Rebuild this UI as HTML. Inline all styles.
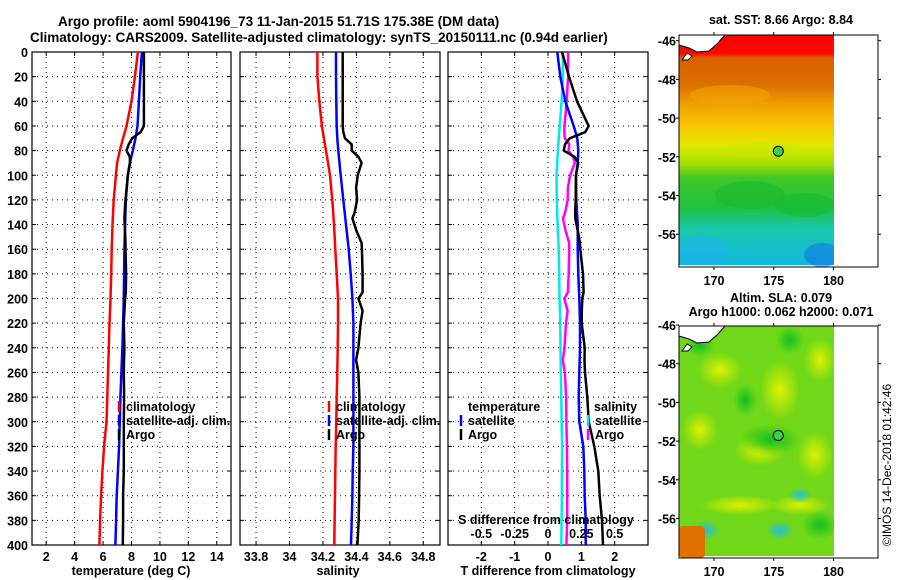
<!DOCTYPE html>
<html><head><meta charset="utf-8">
<style>
html,body{margin:0;padding:0;background:#fff;}
svg{display:block;font-family:"Liberation Sans",sans-serif;font-weight:bold;}
text{font-size:12.5px;fill:#000;}
</style></head>
<body>
<svg id="c" width="900" height="580" viewBox="0 0 900 580">
<defs>
<linearGradient id="sstg" x1="0" y1="0" x2="0" y2="1">
<stop offset="0" stop-color="#ff0000"/><stop offset="0.08" stop-color="#ff0800"/>
<stop offset="0.1" stop-color="#d86000"/><stop offset="0.22" stop-color="#dc7000"/>
<stop offset="0.3" stop-color="#f0a000"/><stop offset="0.4" stop-color="#f8c800"/>
<stop offset="0.48" stop-color="#e0e800"/><stop offset="0.56" stop-color="#a0e000"/>
<stop offset="0.62" stop-color="#40c828"/><stop offset="0.75" stop-color="#20c040"/>
<stop offset="0.84" stop-color="#18c8a8"/><stop offset="1" stop-color="#10b8e0"/>
</linearGradient>
<radialGradient id="blobY"><stop offset="0" stop-color="#e0f000"/><stop offset="1" stop-color="#e0f000" stop-opacity="0"/></radialGradient>
<radialGradient id="blobG"><stop offset="0" stop-color="#10c020"/><stop offset="1" stop-color="#10c020" stop-opacity="0"/></radialGradient>
<radialGradient id="blobC"><stop offset="0" stop-color="#20c0e0"/><stop offset="1" stop-color="#20c0e0" stop-opacity="0"/></radialGradient>
<clipPath id="clipTop"><rect x="679" y="35" width="155" height="232"/></clipPath>
<clipPath id="clipBot"><rect x="679" y="326" width="155" height="232"/></clipPath>
</defs>
<text x="58" y="26" style="font-size:13.5px">Argo profile: aoml 5904196_73 11-Jan-2015 51.71S 175.38E (DM data)</text>
<text x="30" y="42" style="font-size:13.5px">Climatology: CARS2009. Satellite-adjusted climatology: synTS_20150111.nc (0.94d earlier)</text>
<g id="plots"></g>
</svg>
<script>
// ---------- data ----------
const climDepth = [0,20,40,60,70,80,90,100,120,140,160,180,200,220,240,260,280,300,320,340,360,380,400];
const climTemp  = [8.45,8.24,8.0,7.65,7.4,7.18,6.99,6.9,6.75,6.66,6.61,6.57,6.52,6.45,6.4,6.35,6.3,6.24,6.07,5.95,5.86,5.79,5.74];
const satTemp   = [8.73,8.61,8.52,8.42,8.28,8.09,7.88,7.74,7.6,7.55,7.5,7.48,7.46,7.41,7.36,7.29,7.22,7.18,7.13,7.04,6.96,6.92,6.87];
const climSal   = [34.167,34.167,34.178,34.194,34.206,34.218,34.23,34.242,34.256,34.266,34.274,34.282,34.29,34.29,34.288,34.286,34.282,34.28,34.276,34.274,34.272,34.27,34.268];
const satSal    = [34.278,34.278,34.28,34.282,34.286,34.292,34.299,34.306,34.322,34.338,34.354,34.366,34.376,34.382,34.382,34.382,34.382,34.382,34.382,34.378,34.376,34.372,34.368];
const argoDepth = [0,20,40,60,65,70,75,80,85,90,100,110,120,130,135,145,155,160,180,195,200,210,220,240,250,260,280,300,320,340,360,380,400];
const argoTemp  = [8.87,8.87,8.87,8.87,8.64,8.05,7.8,7.65,7.88,7.9,7.74,7.66,7.58,7.52,7.5,7.54,7.58,7.58,7.62,7.6,7.55,7.5,7.46,7.5,7.47,7.46,7.48,7.46,7.46,7.46,7.41,7.41,7.39];
const argoSal   = [34.318,34.318,34.318,34.318,34.322,34.332,34.372,34.372,34.412,34.431,34.408,34.398,34.404,34.39,34.376,34.4,34.431,34.433,34.437,34.437,34.412,34.437,34.425,34.412,34.398,34.412,34.418,34.418,34.418,34.418,34.416,34.414,34.406];
const depthTicks = [0,20,40,60,80,100,120,140,160,180,200,220,240,260,280,300,320,340,360,380,400];
const tempTicks = [2,4,6,8,10,12,14];
const salTicks = [33.8,34,34.2,34.4,34.6,34.8];
const salTickLabels = ["33.8","34","34.2","34.4","34.6","34.8"];
const tdTicks = [-2,-1,0,1,2];
const sdTicks = [-0.5,-0.25,0,0.25,0.5];
const latTicks = [-46,-48,-50,-52,-54,-56];
const lonTicks = [170,175,180];
const argoLon = 175.38, argoLat = -51.71;

// ---------- helpers ----------
const NS='http://www.w3.org/2000/svg';
const root=document.getElementById('plots');
function mk(tag,attrs,parent){const e=document.createElementNS(NS,tag);for(const k in attrs)e.setAttribute(k,attrs[k]);(parent||root).appendChild(e);return e;}
function interp(xs,ys,x){for(let i=0;i<xs.length-1;i++){if(x>=xs[i]&&x<=xs[i+1]){const t=(x-xs[i])/(xs[i+1]-xs[i]);return ys[i]+t*(ys[i+1]-ys[i]);}}return ys[ys.length-1];}
const Y0=52,Y1=545;
const yD=d=>Y0+(d/400)*(Y1-Y0);

function panel(x0,x1,xmin,xmax,name){
  const g=mk('g',{});
  
  
  const sx=v=>x0+(v-xmin)/(xmax-xmin)*(x1-x0);
  return {g,sx,x0,x1};
}
function frame(p,xt,showY){
  depthTicks.forEach(d=>{
    const y=yD(d);
    if(d>0&&d<400){const l=mk('line',{x1:p.x0,x2:p.x1,y1:y,y2:y,stroke:'#000','stroke-width':1,'stroke-dasharray':'1,4'},p.g);}
    mk('line',{x1:p.x0,x2:p.x0+4,y1:y,y2:y,stroke:'#000'},p.g);
    mk('line',{x1:p.x1-4,x2:p.x1,y1:y,y2:y,stroke:'#000'},p.g);
    if(showY){const t=mk('text',{x:28,y:y+5,'text-anchor':'end'},p.g);t.textContent=d;}
  });
  xt.forEach(v=>{const x=p.sx(v);
    const l=mk('line',{x1:x,x2:x,y1:Y0,y2:Y1,stroke:'#000','stroke-dasharray':'1,4'},p.g);
    mk('line',{x1:x,x2:x,y1:Y1-4,y2:Y1,stroke:'#000'},p.g);mk('line',{x1:x,x2:x,y1:Y0,y2:Y0+4,stroke:'#000'},p.g);});
  const r=mk('rect',{x:p.x0,y:Y0,width:p.x1-p.x0,height:Y1-Y0,fill:'none',stroke:'#000','stroke-width':1.2},p.g);
  
}
function line(p,xs,ds,color,w,name){
  const pts=xs.map((v,i)=>p.sx(v).toFixed(1)+','+yD(ds[i]).toFixed(1)).join(' ');
  const pl=mk('polyline',{points:pts,fill:'none',stroke:color,'stroke-width':w,'stroke-linejoin':'round'},p.g);
  
  
}
function txt(parent,x,y,s,anchor,name,size){
  const t=mk('text',{x:x,y:y,'text-anchor':anchor||'start'},parent);
  if(size)t.style.fontSize=size+'px';
  t.textContent=s;
  
  
  return t;
}
function legendEntry(parent,x,y,color,label,name){
  const g=mk('g',{},parent);
  
  
  mk('line',{x1:x,x2:x,y1:y-10,y2:y+1,stroke:color,'stroke-width':2.5},g);
  txt(g,x+7,y,label,'start',name+'-label');
}

// ---------- panel 1: temperature ----------
const p1=panel(32,231,1,15,'temperature-panel');
frame(p1,tempTicks,true);
tempTicks.forEach(v=>txt(p1.g,p1.sx(v),561,v,'middle','temp-tick-label'));
txt(p1.g,131,575,'temperature (deg C)','middle','temperature-axis-title');
line(p1,climTemp,climDepth,'#ff0000',2.5,'temp-climatology-line');
line(p1,satTemp,climDepth,'#0000ff',2.5,'temp-satellite-line');
line(p1,argoTemp,argoDepth,'#000',2.5,'temp-argo-line');
legendEntry(p1.g,119,411,'#ff0000','climatology','legend-climatology');
legendEntry(p1.g,119,425,'#0000ff','satellite-adj. clim.','legend-satellite');
legendEntry(p1.g,119,439,'#000','Argo','legend-argo');

// ---------- panel 2: salinity ----------
const p2=panel(240,440,33.704,34.9,'salinity-panel');
frame(p2,salTicks,false);
salTicks.forEach((v,i)=>txt(p2.g,p2.sx(v),561,salTickLabels[i],'middle','sal-tick-label'));
txt(p2.g,338,575,'salinity','middle','salinity-axis-title');
line(p2,climSal,climDepth,'#ff0000',2.5,'sal-climatology-line');
line(p2,satSal,climDepth,'#0000ff',2.5,'sal-satellite-line');
line(p2,argoSal,argoDepth,'#000',2.5,'sal-argo-line');
legendEntry(p2.g,329,411,'#ff0000','climatology','legend-sal-climatology');
legendEntry(p2.g,329,425,'#0000ff','satellite-adj. clim.','legend-sal-satellite');
legendEntry(p2.g,329,439,'#000','Argo','legend-sal-argo');

// ---------- panel 3: differences ----------
const p3=panel(448,648,-3,3,'difference-panel');
frame(p3,tdTicks,false);
tdTicks.forEach(v=>txt(p3.g,p3.sx(v),561,v,'middle','tdiff-tick-label'));
txt(p3.g,548,575,'T difference from climatology','middle','tdiff-axis-title');
const sdx=v=>p3.sx(v*4);
const satTd=satTemp.map((v,i)=>v-climTemp[i]);
const satSd=satSal.map((v,i)=>(v-climSal[i])*4);
const argoTd=argoTemp.map((v,i)=>v-interp(climDepth,climTemp,argoDepth[i]));
const argoSd=argoSal.map((v,i)=>(v-interp(climDepth,climSal,argoDepth[i]))*4);
line(p3,satSd,climDepth,'#00e8e8',2.5,'sdiff-satellite-line');
line(p3,argoSd,argoDepth,'#ff00ff',2.5,'sdiff-argo-line');
line(p3,satTd,climDepth,'#0000ff',2.5,'tdiff-satellite-line');
line(p3,argoTd,argoDepth,'#000',2.5,'tdiff-argo-line');
txt(p3.g,468,411,'temperature','start','legend-temperature-heading');
legendEntry(p3.g,461,425,'#0000ff','satellite','legend-t-satellite');
legendEntry(p3.g,461,439,'#000','Argo','legend-t-argo');
txt(p3.g,594,411,'salinity','start','legend-salinity-heading');
legendEntry(p3.g,588,425,'#00e8e8','satellite','legend-s-satellite');
legendEntry(p3.g,588,439,'#ff00ff','Argo','legend-s-argo');
txt(p3.g,546,524,'S difference from climatology','middle','sdiff-axis-title');
sdTicks.forEach(v=>txt(p3.g,sdx(v),538,v,'middle','sdiff-tick-label'));

// ---------- maps ----------
function map(y0,y1,latTopY,name,title1,title2,fillFn){
  const g=mk('g',{});
  
  
  const X0=679,X1=878;
  const lx=l=>714+(l-170)*11.95;
  const ly=l=>latTopY+(-46-l)*19.35;
  fillFn(g,X0,y0,y1);
  const land=mk('path',{d:`M${X0} ${y0} L${X0+46} ${y0} L${X0+38} ${y0+9} L${X0+30} ${y0+16} L${X0+18} ${y0+17} L${X0+10} ${y0+13} L${X0} ${y0+10} Z`,fill:'#fff',stroke:'#000','stroke-width':1},g);
  
  const isl=mk('path',{d:`M${X0+3} ${y0+25} L${X0+8} ${y0+18} L${X0+13} ${y0+21} L${X0+9} ${y0+25} Z`,fill:'#fff',stroke:'#000'},g);
  
  const c=mk('circle',{cx:lx(argoLon),cy:ly(argoLat),r:5,fill:'#40d040',stroke:'#000','stroke-width':1},g);
  
  const r=mk('rect',{x:X0,y:y0,width:X1-X0,height:y1-y0,fill:'none',stroke:'#000'},g);
  
  latTicks.forEach(l=>{const y=ly(l);
    mk('line',{x1:X0-3,x2:X0,y1:y,y2:y,stroke:'#000'},g);mk('line',{x1:X1,x2:X1+3,y1:y,y2:y,stroke:'#000'},g);
    txt(g,676,y+5,l,'end','map-lat-label');});
  lonTicks.forEach(l=>{const x=lx(l);
    mk('line',{x1:x,x2:x,y1:y0-3,y2:y0,stroke:'#000'},g);mk('line',{x1:x,x2:x,y1:y1,y2:y1+3,stroke:'#000'},g);
    txt(g,x,y1+18,l,'middle','map-lon-label');});
  if(title1)txt(g,781,y0-11-(title2?13:0),title1,'middle','map-title');
  if(title2)txt(g,781,y0-10,title2,'middle','map-subtitle');
}
map(35,267,40.7,'sst-map','sat. SST: 8.66 Argo: 8.84',null,(g,X0,y0,y1)=>{
  const gg=mk('g',{'clip-path':'url(#clipTop)'},g);
  mk('rect',{x:X0,y:y0,width:155,height:y1-y0-2,fill:'url(#sstg)'},gg);
  [[750,195,35,14,'#18b830'],[805,205,30,12,'#18b830'],[700,250,28,14,'#20b0f0'],[822,255,18,12,'#1070e8'],[760,150,40,8,'#c8e800'],[730,95,40,10,'#f0a800']].forEach(b=>{
    const e=mk('ellipse',{cx:b[0],cy:b[1],rx:b[2],ry:b[3],fill:b[4],opacity:0.55},gg);
    });
});
map(326,558,325,'sla-map','Altim. SLA: 0.079','Argo h1000: 0.062 h2000: 0.071',(g,X0,y0,y1)=>{
  const gg=mk('g',{'clip-path':'url(#clipBot)'},g);
  mk('rect',{x:X0,y:y0,width:155,height:y1-y0-2,fill:'#70d818'},gg);
  [[720,370,22,18,'Y'],[780,390,20,30,'Y'],[820,360,16,22,'Y'],[700,430,18,20,'Y'],[760,450,26,16,'Y'],[815,455,18,24,'Y'],[740,505,40,10,'Y'],[800,505,30,10,'Y'],[745,400,12,16,'G'],[790,340,14,14,'G'],[770,440,30,16,'G'],[705,530,16,10,'C'],[780,530,14,10,'C'],[800,495,12,8,'C'],[820,525,18,14,'G'],[700,345,14,12,'G']].forEach(b=>{
    const e=mk('ellipse',{cx:b[0],cy:b[1],rx:b[2],ry:b[3],fill:'url(#blob'+b[4]+')'},gg);
    });
  const w=mk('rect',{x:X0,y:y1-32,width:26,height:32,rx:4,fill:'#e07000'},gg);
  
});
const ts=txt(root,0,0,'©IMOS 14-Dec-2018 01:42:46','middle','timestamp');
ts.setAttribute('transform','translate(891,465) rotate(-90)');
ts.style.fontWeight='normal';ts.style.fontSize='12px';
</script>
</body></html>
